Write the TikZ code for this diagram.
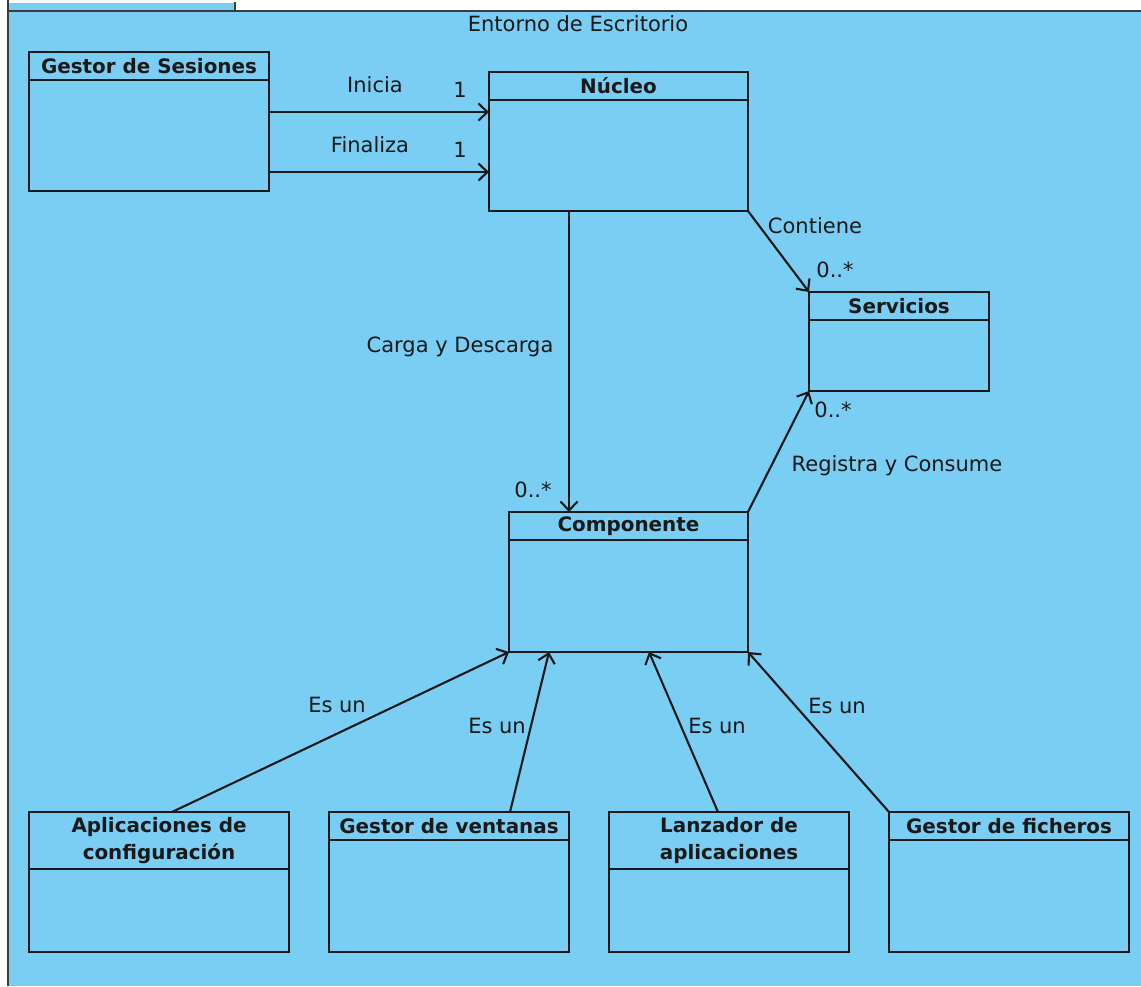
\documentclass[tikz,border=0pt]{standalone}
\usepackage{fontspec}
\setmainfont{DejaVu Sans}
\usetikzlibrary{arrows.meta}
\definecolor{pkgblue}{RGB}{122,206,244}
\definecolor{pkgline}{RGB}{60,60,60}
\definecolor{ink}{RGB}{25,25,25}
\begin{document}
\begin{tikzpicture}[x=1pt,y=-1pt,
  every node/.style={inner sep=0pt, outer sep=0pt},
  txt/.style={font=\fontsize{21}{27}\selectfont, text=ink},
  classbox/.style={draw=ink, line width=2.1pt, rectangle},
  classname/.style={font=\fontsize{19.9}{27}\selectfont\bfseries, text=ink, align=center},
  assoc/.style={draw=ink, line width=2.1pt, -{Straight Barb[length=9pt,width=17pt]}},
  hdr/.style={draw=ink, line width=2.1pt}]
\useasboundingbox (0,0) rectangle (1141,986);

% package frame with its tab
\fill[pkgblue] (8,11) rectangle (1141,986);
\fill[pkgblue] (8,3) rectangle (235,11);
\draw[pkgline, line width=2pt] (8,0) -- (8,986);
\draw[pkgline, line width=2pt] (8,11) -- (1141,11);
\draw[pkgline, line width=2pt] (235,2) -- (235,11);
\node[txt] (frametitle) at (578,24) {Entorno de Escritorio};

% classes: box, name and header separator
\node[classbox, minimum width=240pt, minimum height=139pt] (gs) at (149,121.5) {};
\node[classname] (gsn) at (149,66) {Gestor de Sesiones};
\draw[hdr] (gs.west |- 0,80) -- (gs.east |- 0,80);

\node[classbox, minimum width=259pt, minimum height=139pt] (nuc) at (618.5,141.5) {};
\node[classname] (nucn) at (618.5,86) {Núcleo};
\draw[hdr] (nuc.west |- 0,100) -- (nuc.east |- 0,100);

\node[classbox, minimum width=180pt, minimum height=99pt] (serv) at (899,341.5) {};
\node[classname] (servn) at (899,306) {Servicios};
\draw[hdr] (serv.west |- 0,320) -- (serv.east |- 0,320);

\node[classbox, minimum width=239pt, minimum height=140pt] (comp) at (628.5,582) {};
\node[classname] (compn) at (628.5,526) {Componente};
\draw[hdr] (comp.west |- 0,540) -- (comp.east |- 0,540);

\node[classbox, minimum width=260pt, minimum height=140pt] (apl) at (159,882) {};
\node[classname] (apln) at (159,840.5) {Aplicaciones de\\configuración};
\draw[hdr] (apl.west |- 0,869) -- (apl.east |- 0,869);

\node[classbox, minimum width=240pt, minimum height=140pt] (gv) at (449,882) {};
\node[classname] (gvn) at (449,826) {Gestor de ventanas};
\draw[hdr] (gv.west |- 0,840) -- (gv.east |- 0,840);

\node[classbox, minimum width=240pt, minimum height=140pt] (lz) at (729,882) {};
\node[classname] (lzn) at (729,840.5) {Lanzador de\\aplicaciones};
\draw[hdr] (lz.west |- 0,869) -- (lz.east |- 0,869);

\node[classbox, minimum width=240pt, minimum height=140pt] (gf) at (1009,882) {};
\node[classname] (gfn) at (1009,826) {Gestor de ficheros};
\draw[hdr] (gf.west |- 0,840) -- (gf.east |- 0,840);

% associations
\draw[assoc] ([yshift=9.5pt]gs.east) -- ([yshift=9.5pt]gs.east -| nuc.west);
\draw[assoc] ([yshift=-50.5pt]gs.east) -- ([yshift=-50.5pt]gs.east -| nuc.west);
\draw[assoc] ([xshift=-49.5pt]nuc.south) -- ([xshift=-49.5pt]nuc.south |- comp.north);
\draw[assoc] (nuc.south east) -- (serv.north west);
\draw[assoc] (comp.north east) -- (serv.south west);

% generalisations towards Componente
\draw[assoc] ([xshift=13pt]apl.north) -- (comp.south west);
\draw[assoc] ([xshift=61pt]gv.north) -- ([xshift=-79.5pt]comp.south);
\draw[assoc] ([xshift=-11pt]lz.north) -- ([xshift=20.5pt]comp.south);
\draw[assoc] (gf.north west) -- (comp.south east);

% association labels and multiplicities
\node[txt] (linicia) at (375,85) {Inicia};
\node[txt] (m1) at (460,90) {1};
\node[txt] (lfin) at (370,145) {Finaliza};
\node[txt] (m2) at (460,150) {1};
\node[txt] (lcarga) at (460,347) {Carga y Descarga};
\node[txt] (m3) at (533,490) {0..*};
\node[txt] (lcont) at (815,226) {Contiene};
\node[txt] (m4) at (835,270) {0..*};
\node[txt] (lreg) at (897,466) {Registra y Consume};
\node[txt] (m5) at (833,410) {0..*};
\node[txt] (les1) at (337,705) {Es un};
\node[txt] (les2) at (497,726) {Es un};
\node[txt] (les3) at (717,726) {Es un};
\node[txt] (les4) at (837,706) {Es un};
\end{tikzpicture}
\end{document}
